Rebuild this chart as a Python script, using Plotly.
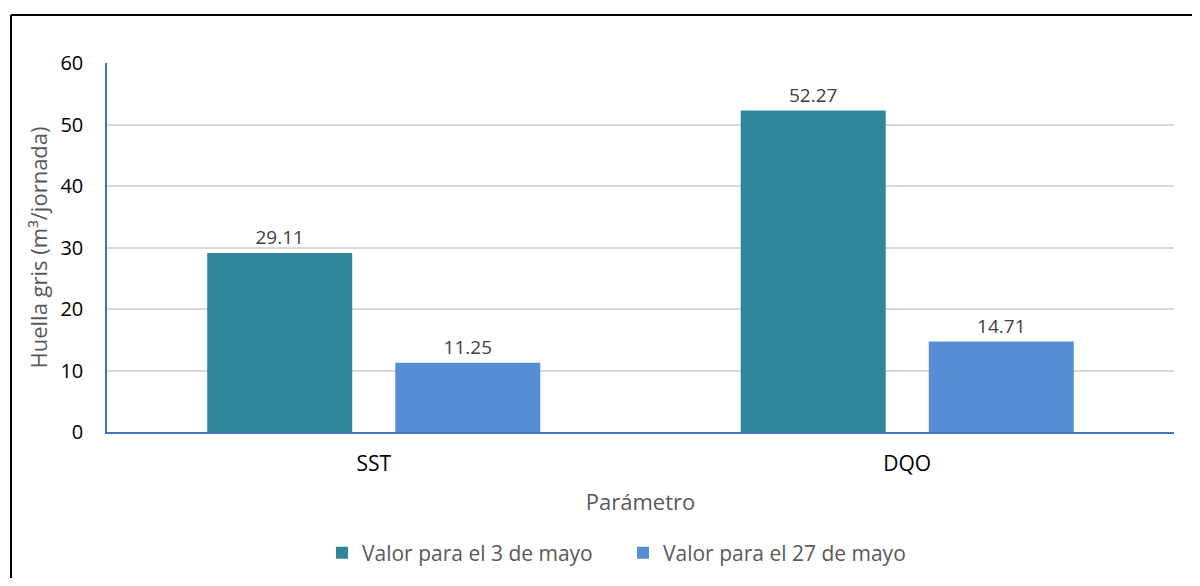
import plotly.graph_objects as go

categories = ["SST", "DQO"]
series_names = ["Valor para el 3 de mayo", "Valor para el 27 de mayo"]
values_3_mayo = [29.11, 52.27]
values_27_mayo = [11.25, 14.71]
y_ticks = [0, 10, 20, 30, 40, 50, 60]

colors = ["#31869B", "#558ED5"]
FONT = "Open Sans"

fig = go.Figure()
for name, vals, col in zip(series_names, [values_3_mayo, values_27_mayo], colors):
    fig.add_trace(go.Bar(
        x=categories, y=vals, name=name, marker=dict(color=col, line=dict(width=0)),
        text=[f"{v:.2f}" for v in vals], textposition="outside",
        textfont=dict(size=19, color="#404040", family=FONT), cliponaxis=False,
    ))

# page body has an 8px margin; figure coords = screen coords - 8
OFF = 8
W, H = 1184, 570
L, R, T = 107 - OFF, 1200 - 1174 - OFF, 63 - OFF
B = H - (432 - OFF)
pw, ph = W - L - R, H - T - B

def px2x(px):
    return (px - OFF - L) / pw

def py2y(py):
    return (H - B - (py - OFF)) / ph

fig.update_layout(
    width=W, height=H,
    margin=dict(l=L, r=R, t=T, b=B, autoexpand=False),
    paper_bgcolor="white", plot_bgcolor="white",
    barmode="group", bargap=0.295, bargroupgap=0.229,
    font=dict(family=FONT, color="#000000"),
    showlegend=True,
    legend=dict(orientation="h", x=px2x(322), xanchor="left", y=py2y(553), yanchor="middle",
                font=dict(size=21, color="#595959", family=FONT), traceorder="normal",
                itemwidth=30, entrywidth=256, entrywidthmode="pixels"),
    xaxis=dict(showgrid=False, showline=True, linecolor="#4472C4", linewidth=1.5, automargin=False,
               ticks="", tickfont=dict(size=21, color="#000000"), ticklabelstandoff=12,
               title=dict(text="Parámetro", font=dict(size=22, color="#595959"), standoff=19)),
    yaxis=dict(range=[0, 60], tickvals=y_ticks, showgrid=True, gridcolor="#D9D9D9", gridwidth=1.5,
               showline=True, linecolor="#4472C4", linewidth=1.5, zeroline=False, automargin=False,
               tickfont=dict(size=20, color="#000000"), ticks="", ticklabelstandoff=18,
               title=dict(text="Huella gris (m³/jornada)", font=dict(size=22, color="#595959"), standoff=7)),
    shapes=[
        dict(type="line", xref="paper", yref="paper", x0=px2x(11), x1=px2x(1215), y0=py2y(15), y1=py2y(15),
             line=dict(color="black", width=2)),
        dict(type="line", xref="paper", yref="paper", x0=px2x(11), x1=px2x(11), y0=py2y(15), y1=py2y(610),
             line=dict(color="black", width=2)),
    ],
)

fig.write_html("out.html")
